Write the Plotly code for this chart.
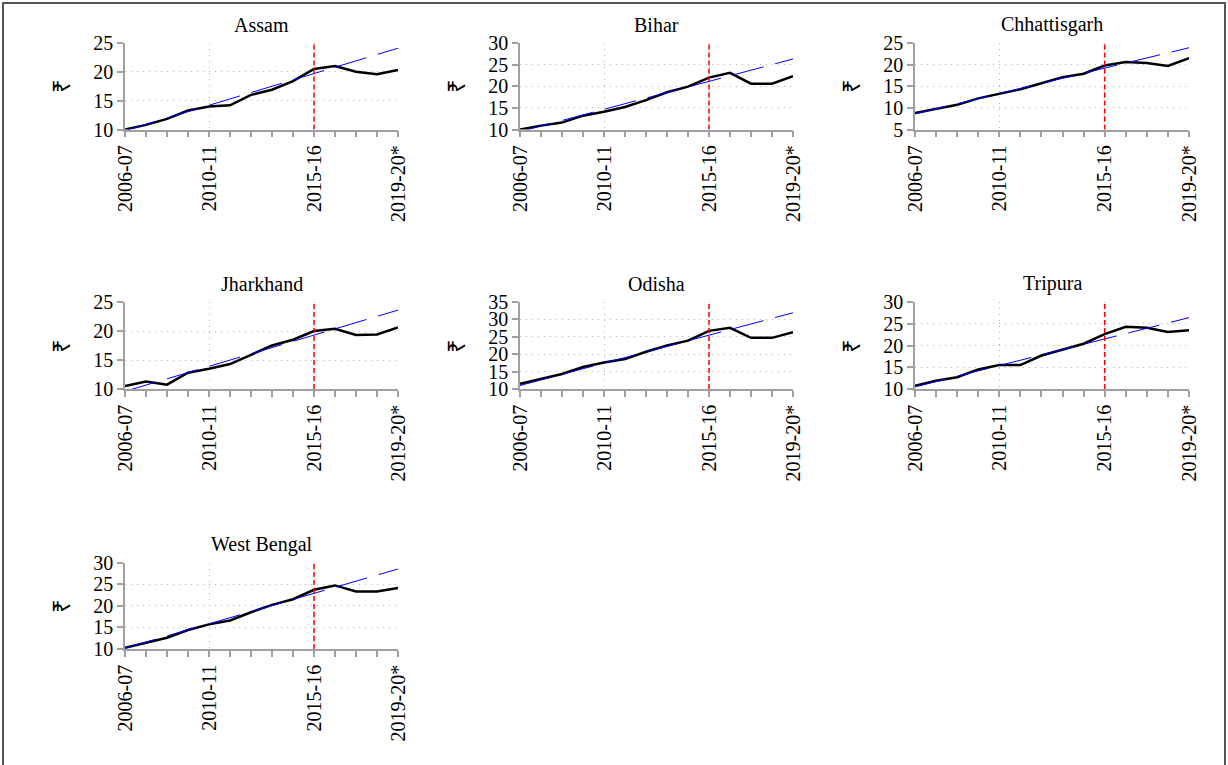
import plotly.graph_objects as go

# Financial years on the x axis
years = ['2006-07', '2007-08', '2008-09', '2009-10', '2010-11', '2011-12', '2012-13',
         '2013-14', '2014-15', '2015-16', '2016-17', '2017-18', '2018-19', '2019-20*']
labelled_years = ['2006-07', '2010-11', '2015-16', '2019-20*']
break_year = '2015-16'

states = ['Assam', 'Bihar', 'Chhattisgarh', 'Jharkhand', 'Odisha', 'Tripura', 'West Bengal']

# Values (₹)
assam = [10.0, 10.8, 11.85, 13.3, 14.0, 14.2, 16.0, 16.9, 18.4, 20.5, 21.0, 20.0, 19.6, 20.3]
bihar = [10.0, 10.9, 11.6, 13.2, 14.1, 15.2, 16.8, 18.6, 19.9, 22.0, 23.1, 20.6, 20.6, 22.3]
chhattisgarh = [8.8, 9.7, 10.7, 12.2, 13.2, 14.3, 15.7, 17.1, 17.9, 19.8, 20.6, 20.4, 19.7, 21.5]
jharkhand = [10.5, 11.3, 10.75, 12.8, 13.5, 14.3, 15.9, 17.5, 18.5, 20.0, 20.4, 19.3, 19.4, 20.6]
odisha = [11.5, 12.9, 14.3, 16.3, 17.6, 18.6, 20.7, 22.5, 23.9, 26.7, 27.6, 24.7, 24.7, 26.3]
tripura = [10.75, 11.9, 12.7, 14.5, 15.5, 15.5, 17.7, 19.0, 20.4, 22.6, 24.3, 24.1, 23.1, 23.5]
west_bengal = [10.3, 11.4, 12.6, 14.4, 15.7, 16.6, 18.5, 20.2, 21.5, 23.7, 24.7, 23.3, 23.3, 24.1]

# Trend line end points (first and last year)
trend_start = [9.8, 9.5, 8.6, 9.6, 11.0, 10.5, 10.2]
trend_end = [24.1, 26.3, 23.9, 23.6, 31.9, 26.4, 28.5]

# y axis ticks per state
y_ticks = [
    [10, 15, 20, 25],
    [10, 15, 20, 25, 30],
    [5, 10, 15, 20, 25],
    [10, 15, 20, 25],
    [10, 15, 20, 25, 30, 35],
    [10, 15, 20, 25, 30],
    [10, 15, 20, 25, 30],
]

series = [assam, bihar, chhattisgarh, jharkhand, odisha, tripura, west_bengal]

W, H = 1228, 765
col_px = [(125, 398), (520, 793), (915, 1189)]
row_px = [(43, 129.5), (302, 389), (562.5, 649)]

FONT = 'Liberation Serif, Times New Roman, serif'
AXIS_COL = '#a0a0a0'
GRID_COL = '#b4b4b4'

fig = go.Figure()
idx = list(range(len(years)))
shapes = []
annotations = []

for i, state in enumerate(states):
    r, c = divmod(i, 3)
    n = '' if i == 0 else str(i + 1)
    xa, ya = 'x' + n, 'y' + n

    fig.add_trace(go.Scatter(x=idx, y=series[i], mode='lines',
                             line=dict(color='black', width=2.5),
                             xaxis=xa, yaxis=ya, showlegend=False))
    fig.add_trace(go.Scatter(x=[idx[0], idx[-1]], y=[trend_start[i], trend_end[i]], mode='lines',
                             line=dict(color='blue', width=1, dash='32px,12px'),
                             xaxis=xa, yaxis=ya, showlegend=False))

    x0, x1 = col_px[c]
    y0, y1 = row_px[r]
    fig.update_layout(**{
        'xaxis' + n: dict(
            domain=[x0 / W, x1 / W], anchor=ya, range=[0, len(years) - 1],
            tickvals=[years.index(y) for y in labelled_years], ticktext=labelled_years,
            tickangle=-90, ticks='outside', ticklen=6, tickcolor=AXIS_COL, tickwidth=1.5,
            minor=dict(dtick=1, tick0=0, ticks='outside', ticklen=6, tickcolor=AXIS_COL,
                       showgrid=False),
            showline=True, linecolor=AXIS_COL, linewidth=1.5, automargin=False,
            showgrid=True, gridcolor=GRID_COL, griddash='1px,5px', gridwidth=1,
            zeroline=False, tickfont=dict(size=20, color='black', family=FONT),
        ),
        'yaxis' + n: dict(
            domain=[1 - y1 / H, 1 - y0 / H], anchor=xa,
            range=[y_ticks[i][0], y_ticks[i][-1]], tickvals=y_ticks[i],
            ticks='outside', ticklen=6, tickcolor=AXIS_COL, tickwidth=1.5,
            showline=True, linecolor=AXIS_COL, linewidth=1.5, automargin=False,
            showgrid=True, gridcolor=GRID_COL, griddash='1px,5px', gridwidth=1,
            zeroline=False, tickfont=dict(size=20, color='black', family=FONT),
            title=dict(text='₹', standoff=16, font=dict(size=24, color='black', family=FONT)),
        ),
    })

    # red dashed marker at 2015-16
    shapes.append(dict(type='line', xref=xa, yref=ya + ' domain',
                       x0=years.index(break_year), x1=years.index(break_year), y0=0, y1=1,
                       line=dict(color='red', width=1.5, dash='5px,3px')))

    annotations.append(dict(text=state, xref='paper', yref='paper',
                            x=(x0 + x1) / 2 / W, y=1 - y0 / H, xanchor='center', yanchor='bottom',
                            yshift=5, showarrow=False,
                            font=dict(size=20, color='black', family=FONT)))

# outer frame
shapes.append(dict(type='rect', xref='paper', yref='paper',
                   x0=3 / W, x1=(W - 3) / W, y0=-0.02, y1=1 - 3 / H,
                   line=dict(color='#555555', width=2)))

fig.update_layout(
    width=W, height=H,
    margin=dict(l=0, r=0, t=0, b=0),
    paper_bgcolor='white', plot_bgcolor='white',
    font=dict(family=FONT, size=20, color='black'),
    shapes=shapes, annotations=annotations,
)

fig.write_html('out.html', config={'displayModeBar': False},
               post_script="document.body.style.margin='0';")
